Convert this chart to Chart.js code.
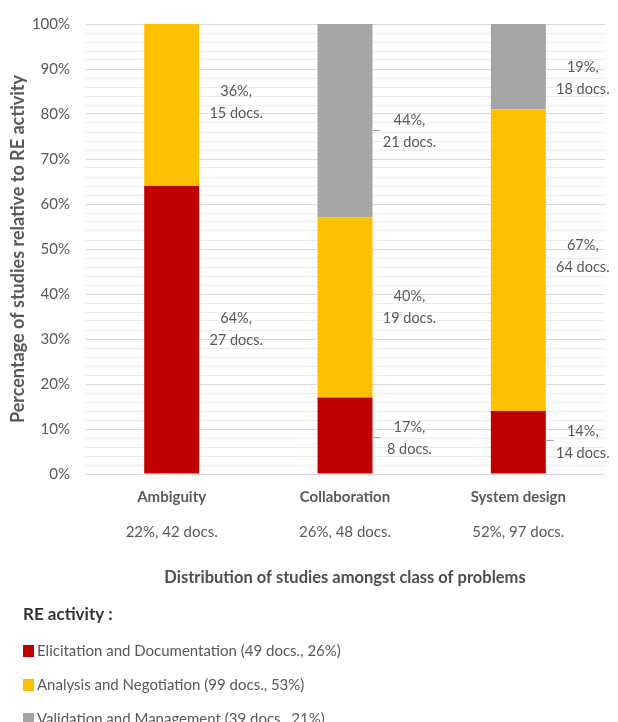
<!DOCTYPE html>
<html>
<head>
<meta charset="utf-8">
<title>RE activity by class of problems</title>
<script src="https://cdn.jsdelivr.net/npm/chart.js@4/dist/chart.umd.min.js"></script>
<style>
  html, body { margin: 0; padding: 0; background: #ffffff; }
  canvas { display: block; }
</style>
</head>
<body>
<canvas id="chart" width="618" height="722"></canvas>
<script>
// Classes of problems and their share of all studies
const categories = ['Ambiguity', 'Collaboration', 'System design'];
const categoryShares = ['22%, 42 docs.', '26%, 48 docs.', '52%, 97 docs.'];

// RE activity series: percentage within each class and number of documents
const seriesNames = [
  'Elicitation and Documentation (49 docs., 26%)',
  'Analysis and Negotiation (99 docs., 53%)',
  'Validation and Management (39 docs., 21%)'
];
const elicitationPct = [64, 17, 14];
const elicitationDocs = [27, 8, 14];
const analysisPct = [36, 40, 67];
const analysisDocs = [15, 19, 64];
const validationPct = [0, 44, 19];
const validationDocs = [0, 21, 18];

// Axis ticks
const yMin = 0;
const yMax = 100;
const yMinorStep = 2;
const yMajorStep = 10;

const FONT = 'Lato, "Open Sans", sans-serif';
const TEXT = '#595959';

// Per-label vertical nudges (px) and which labels get a leader line
const labelNudge = [[0, 3, 0], [-3, 0, -4], [0, 13, 12]];
const labelLeader = [[false, true, true], [false, false, false], [false, true, false]];

const datasets = [
  { label: seriesNames[0], data: elicitationPct, docs: elicitationDocs, backgroundColor: '#C00000' },
  { label: seriesNames[1], data: analysisPct, docs: analysisDocs, backgroundColor: '#FFC000' },
  { label: seriesNames[2], data: validationPct, docs: validationDocs, backgroundColor: '#A5A5A5' }
].map(d => Object.assign(d, { barPercentage: 0.634, categoryPercentage: 0.5, borderWidth: 0 }));

// Value labels beside each stacked segment
const segmentLabels = {
  id: 'segmentLabels',
  afterDatasetsDraw(chart) {
    const ctx = chart.ctx;
    ctx.save();
    ctx.font = '14.5px ' + FONT;
    ctx.fillStyle = TEXT;
    ctx.textAlign = 'center';
    ctx.textBaseline = 'middle';
    chart.data.datasets.forEach((ds, di) => {
      const meta = chart.getDatasetMeta(di);
      meta.data.forEach((bar, i) => {
        const v = ds.data[i];
        if (!v) return;
        const right = bar.x + bar.width / 2;
        const cy = (bar.y + bar.base) / 2 + labelNudge[di][i];
        const cx = right + 37;
        if (labelLeader[di][i]) {
          ctx.strokeStyle = '#A6A6A6';
          ctx.lineWidth = 1;
          ctx.beginPath();
          ctx.moveTo(right, Math.round(cy) - 1.5);
          ctx.lineTo(right + 8, Math.round(cy) - 1.5);
          ctx.stroke();
        }
        ctx.fillText(v + '%,', cx, cy - 11);
        ctx.fillText(ds.docs[i] + ' docs.', cx, cy + 11);
      });
    });
    ctx.restore();
  }
};

// Second line under each category name, plus the legend block
const extras = {
  id: 'extras',
  afterDraw(chart) {
    const ctx = chart.ctx;
    const xs = chart.scales.x;
    ctx.save();
    ctx.font = '15px ' + FONT;
    ctx.fillStyle = TEXT;
    ctx.textAlign = 'center';
    ctx.textBaseline = 'middle';
    categoryShares.forEach((s, i) => ctx.fillText(s, xs.getPixelForValue(i), 532));

    ctx.textAlign = 'left';
    ctx.font = 'bold 17px ' + FONT;
    ctx.fillStyle = '#333333';
    ctx.fillText('RE activity :', 23, 615);
    ctx.font = '15px ' + FONT;
    chart.data.datasets.forEach((ds, i) => {
      const y = 651 + i * 34;
      ctx.fillStyle = ds.backgroundColor;
      ctx.fillRect(23, y - 6, 11, 12);
      ctx.fillStyle = TEXT;
      ctx.fillText(ds.label, 37, y);
    });
    ctx.restore();
  }
};

new Chart(document.getElementById('chart'), {
  type: 'bar',
  data: { labels: categories, datasets },
  plugins: [segmentLabels, extras],
  options: {
    responsive: false,
    animation: false,
    layout: { padding: { top: 18, right: 13, bottom: 128, left: 0 } },
    plugins: { legend: { display: false }, tooltip: { enabled: false } },
    scales: {
      x: {
        stacked: true,
        grid: { display: false, drawTicks: false },
        border: { display: false },
        ticks: { color: TEXT, font: { family: FONT, size: 15, weight: 'bold' }, padding: 14 },
        title: {
          display: true,
          text: 'Distribution of studies amongst class of problems',
          color: '#4D4D4D',
          font: { family: FONT, size: 16.5, weight: 'bold' },
          padding: { top: 0, bottom: 6 }
        },
        afterFit(s) { s.height = 120; }
      },
      y: {
        stacked: true,
        min: yMin,
        max: yMax,
        grid: {
          drawTicks: false,
          color: c => (c.tick && c.tick.value % yMajorStep === 0) ? '#D9D9D9' : '#EDEDED'
        },
        border: { display: false },
        ticks: {
          stepSize: yMinorStep,
          autoSkip: false,
          padding: 15,
          color: TEXT,
          font: { family: FONT, size: 15 },
          callback: v => (v % yMajorStep === 0 ? v + '%' : '')
        },
        title: {
          display: true,
          text: 'Percentage of studies relative to RE activity',
          color: TEXT,
          font: { family: FONT, size: 18, weight: 'bold' },
          padding: { top: 7, bottom: 0 }
        },
        afterFit(s) { s.width = 85; }
      }
    }
  }
});
</script>
</body>
</html>
